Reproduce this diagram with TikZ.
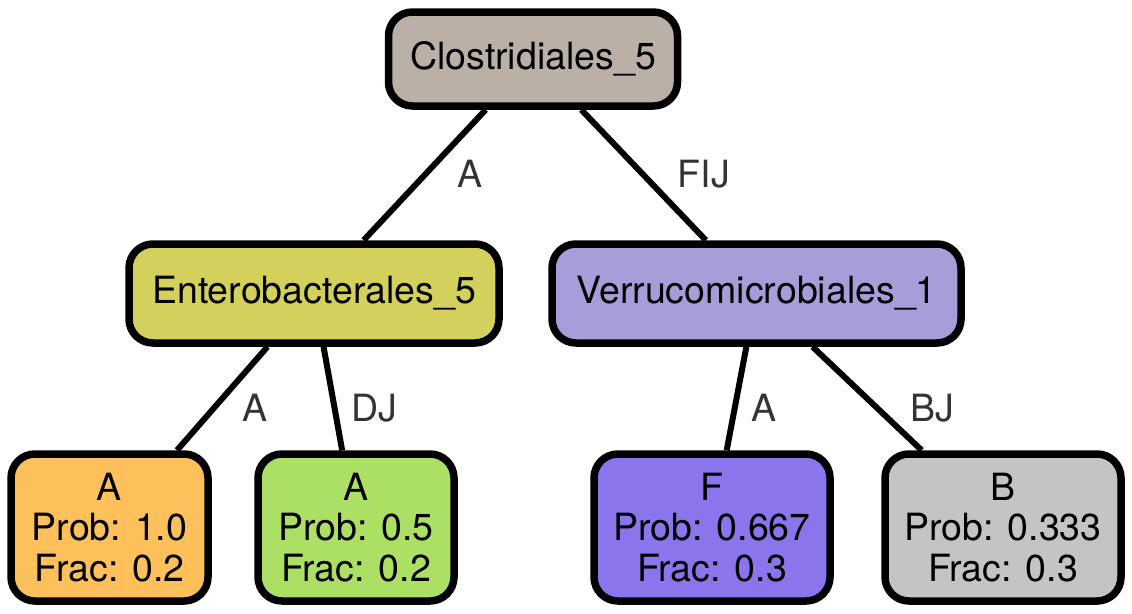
\documentclass[tikz,border=0pt]{standalone}
\usepackage{fontspec}
\setmainfont{TeX Gyre Heros}
\usepackage{xcolor}
\usetikzlibrary{positioning}
\definecolor{clostfill}{HTML}{BAB0A7}
\definecolor{enterofill}{HTML}{D4D05C}
\definecolor{verrufill}{HTML}{A99DD9}
\definecolor{leafAfill}{HTML}{FDC05A}
\definecolor{leafDfill}{HTML}{ABE065}
\definecolor{leafFfill}{HTML}{8B74EC}
\definecolor{leafBfill}{HTML}{C4C4C4}
\definecolor{labelgray}{HTML}{333333}
\tikzset{
  taxon/.style={rectangle, rounded corners=24pt, draw=black, line width=7.5pt,
                fill=#1, align=center, inner sep=0pt, minimum height=94pt,
                font=\fontsize{37.5}{40.5}\selectfont},
  taxon/.default=white,
  leaf/.style={taxon=#1, minimum height=147pt, minimum width=236pt},
  edge/.style={line width=6pt, color=black},
  elabel/.style={text=labelgray, inner sep=0pt, font=\fontsize{37.5}{40.5}\selectfont},
}
\begin{document}
\begin{tikzpicture}[x=1pt, y=-1pt]
  \useasboundingbox (0,0) rectangle (1132,613);
  % inner taxa
  \node[taxon=clostfill, minimum width=289pt] (clost) at (533,59) {Clostridiales\_5};
  \node[taxon=enterofill, minimum width=370pt, minimum height=99pt] (entero) at (314,293.5) {Enterobacterales\_5};
  \node[taxon=verrufill, minimum width=409pt, minimum height=99pt] (verru) at (756.5,293.5) {Verrucomicrobiales\_1};
  % leaves
  \node[leaf=leafAfill, minimum width=197pt] (leafA) at (109.5,527.5) {A\\Prob: 1.0\\Frac: 0.2};
  \node[leaf=leafDfill, minimum width=196pt] (leafD) at (356,527.5) {A\\Prob: 0.5\\Frac: 0.2};
  \node[leaf=leafFfill] (leafF) at (712,527.5) {F\\Prob: 0.667\\Frac: 0.3};
  \node[leaf=leafBfill] (leafB) at (1003,527.5) {B\\Prob: 0.333\\Frac: 0.3};
  % edges
  \draw[edge] (clost) -- (entero);
  \draw[edge] (clost) -- (verru);
  \draw[edge] (entero) -- (leafA);
  \draw[edge] (entero) -- (leafD);
  \draw[edge] (verru) -- (leafF);
  \draw[edge] (verru) -- (leafB);
  % edge labels
  \node[elabel] (lblEntero) at (470,174) {A};
  \node[elabel] (lblVerru) at (704,174) {FIJ};
  \node[elabel] (lblLeafA) at (255,408) {A};
  \node[elabel] (lblLeafD) at (374,408) {DJ};
  \node[elabel] (lblLeafF) at (764,408) {A};
  \node[elabel] (lblLeafB) at (932,408) {BJ};
\end{tikzpicture}
\end{document}
